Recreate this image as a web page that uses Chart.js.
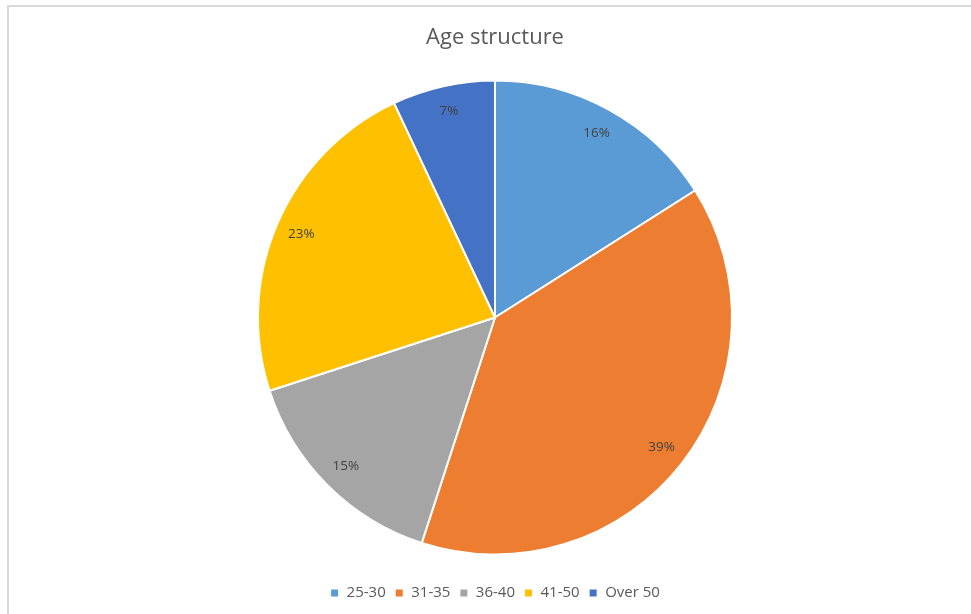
<!DOCTYPE html>
<html>
<head>
<meta charset="utf-8">
<script src="https://cdn.jsdelivr.net/npm/chart.js@4.4.1/dist/chart.umd.min.js"></script>
<style>
  html, body { margin: 0; padding: 0; background: #ffffff; }
  #wrap { position: relative; width: 971px; height: 614px; overflow: hidden; }
  #frame { position: absolute; left: 7px; top: 5px; width: 1200px; height: 900px;
           border-left: 2px solid #d9d9d9; border-top: 2px solid #d9d9d9; pointer-events: none; }
  canvas { position: absolute; left: 0; top: 0; }
</style>
</head>
<body>
<div id="wrap">
  <canvas id="c" width="971" height="614"></canvas>
  <div id="frame"></div>
</div>
<script>
const titleText = "Age structure";
const categories = ["25-30", "31-35", "36-40", "41-50", "Over 50"];
const shares = [16, 39, 15, 23, 7];
const colors = ["#5B9BD5", "#ED7D31", "#A5A5A5", "#FFC000", "#4472C4"];

const FONT = "'Open Sans', Calibri, Carlito, sans-serif";

const labelPlugin = {
  id: 'sliceLabels',
  afterDatasetsDraw(chart) {
    const ctx = chart.ctx;
    const meta = chart.getDatasetMeta(0);
    ctx.save();
    ctx.font = "13.5px " + FONT;
    ctx.fillStyle = "#404040";
    ctx.textAlign = "center";
    ctx.textBaseline = "middle";
    meta.data.forEach((arc, i) => {
      const p = arc.getProps(['x', 'y', 'startAngle', 'endAngle', 'outerRadius'], true);
      const mid = (p.startAngle + p.endAngle) / 2;
      const r = p.outerRadius * 0.89;
      ctx.fillText(shares[i] + "%", p.x + Math.cos(mid) * r, p.y + Math.sin(mid) * r);
    });
    ctx.restore();
  }
};

new Chart(document.getElementById('c'), {
  type: 'pie',
  data: {
    labels: categories,
    datasets: [{
      data: shares,
      backgroundColor: colors,
      borderColor: '#ffffff',
      borderWidth: 2,
      radius: 237
    }]
  },
  options: {
    responsive: false,
    animation: false,
    devicePixelRatio: 1,
    layout: { padding: { left: 19, right: 0, top: 0, bottom: 3.5 } },
    plugins: {
      title: {
        display: true,
        text: titleText,
        color: '#595959',
        font: { family: FONT, size: 22, weight: 'normal' },
        padding: { top: 24.8, bottom: 7.3 }
      },
      legend: {
        position: 'bottom',
        labels: {
          color: '#595959',
          font: { family: FONT, size: 15 },
          boxWidth: 9,
          boxHeight: 9,
          padding: 9
        }
      },
      tooltip: { enabled: false }
    }
  },
  plugins: [labelPlugin]
});
</script>
</body>
</html>
